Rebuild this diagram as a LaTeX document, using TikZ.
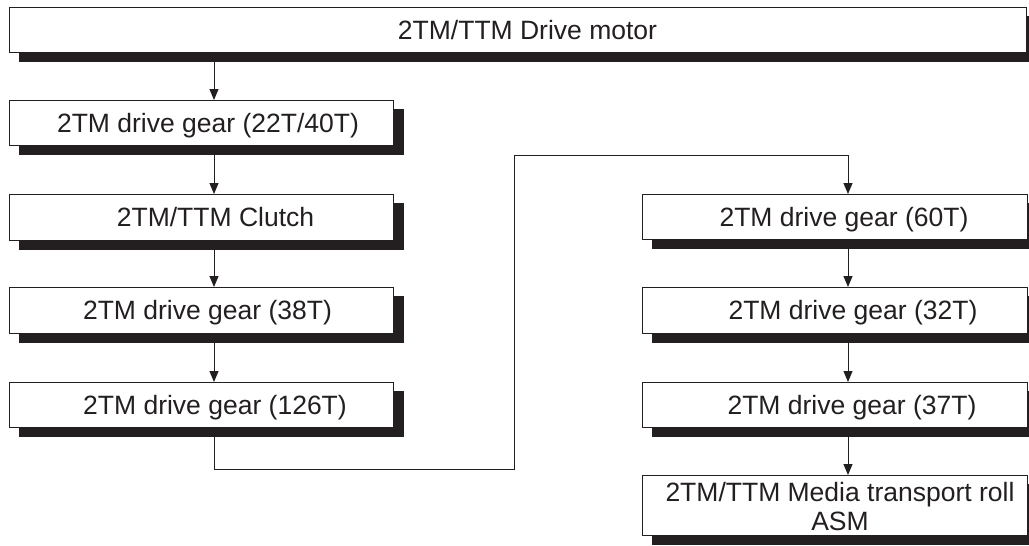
\documentclass[tikz,border=0pt]{standalone}
\usepackage{fontspec}
\setmainfont{Liberation Sans}
\usetikzlibrary{arrows.meta,backgrounds}
\definecolor{ink}{HTML}{231F20}
\tikzset{
  boxst/.style={draw=ink, line width=1pt, fill=white, inner sep=0pt, anchor=north west},
  lbl/.style={text=ink, font=\fontsize{26.5}{29}\selectfont, inner sep=0pt, align=center, anchor=base},
  conn/.style={draw=ink, line width=1pt},
  arr/.style={conn, -{Triangle[length=11pt,width=9pt]}},
  shade/.style={fill=ink},
}
\newcommand\mkshadow[1]{\fill[shade] ([shift={(10pt,-9pt)}]#1.south west) rectangle ([shift={(10pt,-9pt)}]#1.north east);}
\begin{document}
\begin{tikzpicture}[x=1pt,y=-1pt]
\useasboundingbox (0,0) rectangle (1029,546);
% boxes
\node[boxst, minimum width=1017pt, minimum height=45pt] (top) at (9,7) {};
\node[boxst, minimum width=384pt, minimum height=45pt] (g1) at (9,100) {};
\node[boxst, minimum width=384pt, minimum height=46pt] (g2) at (9,194) {};
\node[boxst, minimum width=384pt, minimum height=46pt] (g3) at (9,287) {};
\node[boxst, minimum width=384pt, minimum height=45pt] (g4) at (9,382) {};
\node[boxst, minimum width=385pt, minimum height=45pt] (r1) at (642,194) {};
\node[boxst, minimum width=385pt, minimum height=46pt] (r2) at (642,287) {};
\node[boxst, minimum width=385pt, minimum height=45pt] (r3) at (642,382) {};
\node[boxst, minimum width=385pt, minimum height=60pt] (r4) at (642,475) {};
% labels
\node[lbl] (ttop) at (527.5,39) {2TM/TTM Drive motor};
\node[lbl] (tg1) at (208,132) {2TM drive gear (22T/40T)};
\node[lbl] (tg2) at (215.5,226.5) {2TM/TTM Clutch};
\node[lbl] (tg3) at (207.5,319.5) {2TM drive gear (38T)};
\node[lbl] (tg4) at (215,414) {2TM drive gear (126T)};
\node[lbl] (tr1) at (844,226) {2TM drive gear (60T)};
\node[lbl] (tr2) at (853,319.5) {2TM drive gear (32T)};
\node[lbl] (tr3) at (852,414) {2TM drive gear (37T)};
\node[lbl, anchor=center] (tr4) at (840,507) {2TM/TTM Media transport roll\\ASM};
% connectors and shadows
\coordinate (lx) at (214,0);
\coordinate (rx) at (848,0);
\coordinate (c1) at (214,469);
\coordinate (c2) at (514,469);
\coordinate (c3) at (514,155);
\coordinate (c4) at (848,155);
\begin{scope}[on background layer]
  \draw[arr] (lx |- top.south) -- (lx |- g1.north);
  \draw[arr] (lx |- g1.south) -- (lx |- g2.north);
  \draw[arr] (lx |- g2.south) -- (lx |- g3.north);
  \draw[arr] (lx |- g3.south) -- (lx |- g4.north);
  \draw[arr] (lx |- g4.south) -- (c1) -- (c2) -- (c3) -- (c4) -- (rx |- r1.north);
  \draw[arr] (rx |- r1.south) -- (rx |- r2.north);
  \draw[arr] (rx |- r2.south) -- (rx |- r3.north);
  \draw[arr] (rx |- r3.south) -- (rx |- r4.north);
  \mkshadow{top}
  \mkshadow{g1}
  \mkshadow{g2}
  \mkshadow{g3}
  \mkshadow{g4}
  \mkshadow{r1}
  \mkshadow{r2}
  \mkshadow{r3}
  \mkshadow{r4}
\end{scope}
\end{tikzpicture}
\end{document}
